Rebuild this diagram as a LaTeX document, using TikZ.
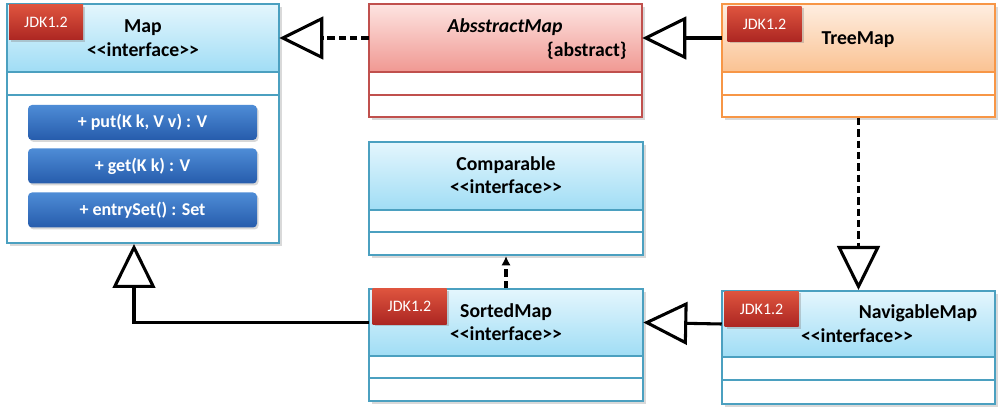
\documentclass[tikz,border=0pt]{standalone}
\usepackage{fontspec}
\setmainfont{Carlito}
\usetikzlibrary{arrows.meta,fit,shadows}

\definecolor{bluebd}{RGB}{75,160,192}
\definecolor{bluetop}{RGB}{228,246,253}
\definecolor{bluebot}{RGB}{160,221,245}
\definecolor{redbd}{RGB}{192,80,77}
\definecolor{redtop}{RGB}{253,228,225}
\definecolor{redbot}{RGB}{240,152,146}
\definecolor{orangebd}{RGB}{247,150,70}
\definecolor{orangetop}{RGB}{254,238,225}
\definecolor{orangebot}{RGB}{250,194,146}
\definecolor{badgetop}{RGB}{222,84,62}
\definecolor{badgebot}{RGB}{172,38,34}
\definecolor{btntop}{RGB}{78,140,214}
\definecolor{btnbot}{RGB}{38,92,172}

\tikzset{
  bluehdr/.style={top color=bluetop, bottom color=bluebot},
  redhdr/.style={top color=redtop, bottom color=redbot},
  orangehdr/.style={top color=orangetop, bottom color=orangebot},
  titletext/.style={anchor=base, inner sep=0pt, font=\fontsize{14.8}{17}\selectfont\bfseries},
  badge/.style={minimum width=55.5pt, minimum height=26.25pt, inner sep=0pt,
    top color=badgetop, bottom color=badgebot, text=white,
    font=\fontsize{12}{14}\selectfont, drop shadow={shadow xshift=1.5pt, shadow yshift=-1.5pt, opacity=0.35}},
  btn/.style={minimum width=171.75pt, minimum height=26.25pt, inner sep=0pt, rounded corners=3pt,
    top color=btntop, bottom color=btnbot, text=white,
    font=\fontsize{13.5}{15}\selectfont\bfseries, drop shadow={shadow xshift=1.2pt, shadow yshift=-1.5pt, opacity=0.3}},
  conn/.style={line width=2.3pt, black},
  dashconn/.style={conn, dash pattern=on 5.5pt off 3pt},
  gen/.style={-{Triangle[open, length=33pt, width=32pt, fill=white, line width=2.3pt]}},
}

\newcommand{\classbox}[8]{%
  \fill[black, opacity=0.15] (#3+3,#4+3) rectangle (#5+3,#8+3);
  \fill[white] (#3,#4) rectangle (#5,#8);
  \shade[#2hdr] (#3,#4) rectangle (#5,#6);
  \draw[#2bd, line width=1.5pt] (#3,#6) -- (#5,#6) (#3,#7) -- (#5,#7);
  \node[fit={(#3,#4)(#5,#6)}, inner sep=0pt] (#1hdr) {};
  \node[fit={(#3,#4)(#5,#8)}, inner sep=0pt, draw=#2bd, line width=1.5pt] (#1) {};
}
\newcommand{\iface}{<{}<interface>{}>}

\begin{document}
\begin{tikzpicture}[x=0.75pt, y=-0.75pt]
\useasboundingbox[fill=white] (0,0) rectangle (998,409);

% class boxes
\classbox{map}{blue}{7}{4}{279}{72}{95}{243}
\classbox{abs}{red}{369}{4}{642}{72}{95}{117}
\classbox{tree}{orange}{722}{4}{995}{72}{95}{117}
\classbox{comp}{blue}{369}{142}{643}{210}{232}{255}
\classbox{sorted}{blue}{369}{289}{643}{356}{378}{401}
\classbox{nav}{blue}{722}{291}{995}{357}{380}{404}

% titles
\node[titletext] (tmap) at (143,33) {Map};
\node[titletext] (imap) at (143,57) {\iface};
\node[titletext, font=\fontsize{14.8}{17}\selectfont\bfseries\itshape] (tabs) at (505,33) {AbsstractMap};
\node[titletext, anchor=base east] (aabs) at (627,57) {\{abstract\}};
\node[titletext] (ttree) at (858,45) {TreeMap};
\node[titletext] (tcomp) at (506,171) {Comparable};
\node[titletext] (icomp) at (506,194) {\iface};
\node[titletext] (tsorted) at (506,317) {SortedMap};
\node[titletext] (isorted) at (506,340) {\iface};
\node[titletext] (tnav) at (918,319) {NavigableMap};
\node[titletext] (inav) at (857,342) {\iface};

% badges
\node[badge] (bmap) at (46,22.5) {JDK1.2};
\node[badge] (btree) at (764.5,24) {JDK1.2};
\node[badge] (bsorted) at (409.5,306.5) {JDK1.2};
\node[badge] (bnav) at (761.5,309) {JDK1.2};

% method buttons
\node[btn] (mput) at (142.5,122.5) {+ put(K k, V v) : V};
\node[btn] (mget) at (142.5,166) {+ get(K k) : V};
\node[btn] (mentry) at (142.5,210) {+ entrySet() : Set};

% connectors
\draw[dashconn, gen] (abshdr.west) -- (maphdr.east);
\draw[conn, gen] (treehdr.west) -- (abshdr.east);
\draw[dashconn, gen] (tree.south) -- (nav.north);
\draw[conn, gen] (navhdr.west) -- (sortedhdr.east);
\draw[conn, gen] (sortedhdr.west) -| ([xshift=-6.75pt]map.south);
\draw[dashconn, -{Latex[length=7pt, width=7pt]}] (sorted.north) -- (comp.south);
\end{tikzpicture}
\end{document}
